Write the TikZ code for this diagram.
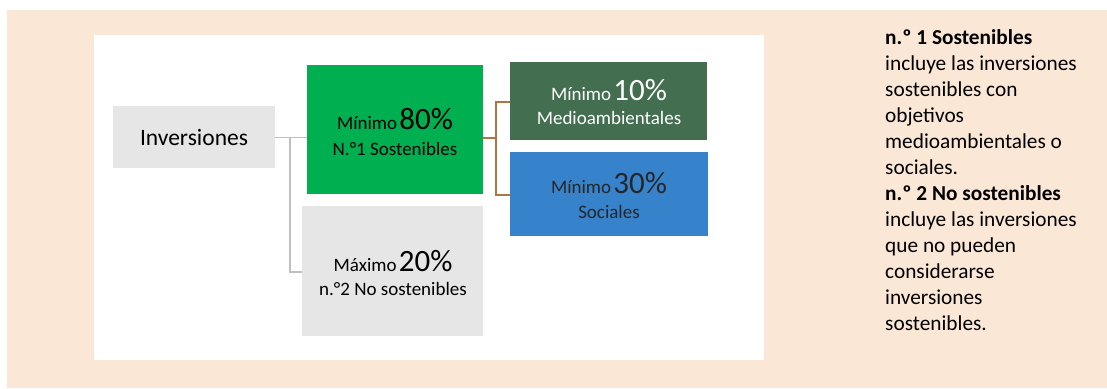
\documentclass[tikz,border=0pt]{standalone}
\usepackage{fontspec}
\setmainfont{Carlito}
\definecolor{peach}{HTML}{FBE7D6}
\definecolor{boxgrey}{HTML}{E6E6E6}
\definecolor{sgreen}{HTML}{00B050}
\definecolor{dgreen}{HTML}{436F50}
\definecolor{sblue}{HTML}{3683CC}
\definecolor{linegrey}{HTML}{BFBFBF}
\definecolor{linebrown}{HTML}{B07545}
\newcommand{\smallpart}[1]{{\fontsize{19}{22}\selectfont #1}}
\newcommand{\bigpart}[1]{{\fontsize{31}{34}\selectfont #1}}
\begin{document}
\begin{tikzpicture}[x=1pt,y=-1pt,
  catbox/.style={draw=none,minimum width=#1,inner sep=0pt,anchor=north west},
  small/.style={font=\fontsize{19}{22}\selectfont},
  conngrey/.style={draw=linegrey,line width=1.4pt},
  connbrown/.style={draw=linebrown,line width=1.4pt},
  lbl/.style={inner sep=0pt,anchor=base,align=center}
]
\useasboundingbox (0,0) rectangle (1107,388);
% backgrounds
\fill[peach] (7,10) rectangle (1107,388);
\fill[white] (94,35) rectangle (764,360);
% boxes
\node[fill=boxgrey,catbox,minimum width=162pt,minimum height=62pt] (inv) at (113,106) {};
\node[fill=sgreen,catbox,minimum width=176pt,minimum height=129pt] (s1) at (307,65) {};
\node[fill=boxgrey,catbox,minimum width=181pt,minimum height=130pt] (s2) at (302,206) {};
\node[fill=dgreen,catbox,minimum width=197pt,minimum height=78pt] (env) at (510,62) {};
\node[fill=sblue,catbox,minimum width=198pt,minimum height=84pt] (soc) at (510,152) {};
% connectors
\coordinate (gj) at (290,137.5);
\coordinate (bj) at (496,138);
\draw[conngrey] (inv.east |- gj) -- (gj) -- (s1.west |- gj);
\draw[conngrey] (gj) -- (gj |- 0,272) -- (s2.west |- 0,272);
\draw[connbrown] (s1.east |- bj) -- (bj);
\draw[connbrown] (env.west |- 0,102) -- (bj |- 0,102) -- (bj |- 0,195) -- (soc.west |- 0,195);
% texts
\node[lbl,font=\fontsize{23.5}{26}\selectfont] (tinv) at (194,145) {Inversiones};
\node[lbl] (t1a) at (395,129) {\smallpart{Mínimo} \bigpart{80\%}};
\node[lbl,small] (t1b) at (395,155) {N.°1 Sostenibles};
\node[lbl,text=white] (tea) at (609,100) {\smallpart{Mínimo} \bigpart{10\%}};
\node[lbl,small,text=white] (teb) at (609,124) {Medioambientales};
\node[lbl,text=black!85] (tsa) at (609,193) {\smallpart{Mínimo} \bigpart{30\%}};
\node[lbl,small,text=black!85] (tsb) at (609,218) {Sociales};
\node[lbl] (t2a) at (393,271) {\smallpart{Máximo} \bigpart{20\%}};
\node[lbl,small] (t2b) at (393,295) {n.°2 No sostenibles};
% side text
\node[inner sep=0pt,anchor=north west,align=left,font=\fontsize{21.3}{26}\selectfont] (side) at (885,29)
{\textbf{n.º 1 Sostenibles}\\
incluye las inversiones\\
sostenibles con\\
objetivos\\
medioambientales o\\
sociales.\\
\textbf{n.º 2 No sostenibles}\\
incluye las inversiones\\
que no pueden\\
considerarse\\
inversiones\\
sostenibles.};
\end{tikzpicture}
\end{document}
